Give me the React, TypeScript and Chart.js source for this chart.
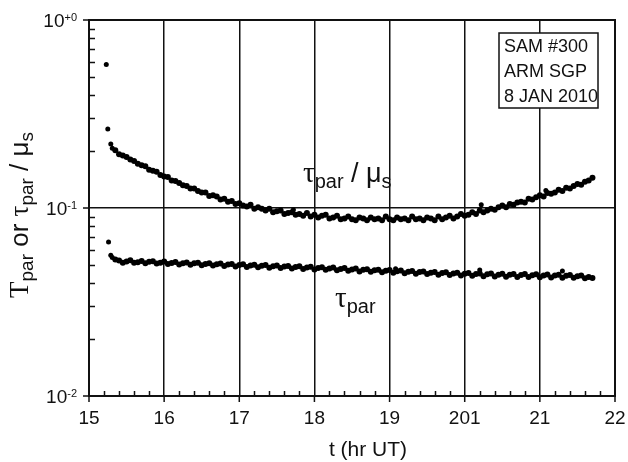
import React, { useEffect, useRef } from "react";
import { Chart, registerables } from "chart.js";
Chart.register(...registerables);

// ---- data ----
const xTicks = [15, 16, 17, 18, 19, 20, 21, 22];
const xTickLabels = ["15", "16", "17", "18", "19", "201", "21", "22"];
const yMajor = [0.01, 0.1, 1];
const yTickExp = ["-2", "-1", "+0"];
const infoLines = ["SAM #300", "ARM SGP", "8 JAN 2010"];

const times = [
  15.35, 15.4, 15.45, 15.5, 15.55, 15.6, 15.65, 15.7, 15.75, 15.8,
  15.85, 15.9, 15.95, 16.0, 16.05, 16.1, 16.15, 16.2, 16.25, 16.3,
  16.35, 16.4, 16.45, 16.5, 16.55, 16.6, 16.65, 16.7, 16.75, 16.8,
  16.85, 16.9, 16.95, 17.0, 17.05, 17.1, 17.15, 17.2, 17.25, 17.3,
  17.35, 17.4, 17.45, 17.5, 17.55, 17.6, 17.65, 17.7, 17.75, 17.8,
  17.85, 17.9, 17.95, 18.0, 18.05, 18.1, 18.15, 18.2, 18.25, 18.3,
  18.35, 18.4, 18.45, 18.5, 18.55, 18.6, 18.65, 18.7, 18.75, 18.8,
  18.85, 18.9, 18.95, 19.0, 19.05, 19.1, 19.15, 19.2, 19.25, 19.3,
  19.35, 19.4, 19.45, 19.5, 19.55, 19.6, 19.65, 19.7, 19.75, 19.8,
  19.85, 19.9, 19.95, 20.0, 20.05, 20.1, 20.15, 20.2, 20.25, 20.3,
  20.35, 20.4, 20.45, 20.5, 20.55, 20.6, 20.65, 20.7, 20.75, 20.8,
  20.85, 20.9, 20.95, 21.0, 21.05, 21.1, 21.15, 21.2, 21.25, 21.3,
  21.35, 21.4, 21.45, 21.5, 21.55, 21.6, 21.65, 21.7,
];

// tau_par / mu_s
const upper = [
  0.203, 0.193, 0.19, 0.187, 0.181, 0.178, 0.172, 0.169, 0.167, 0.16,
  0.158, 0.156, 0.15, 0.147, 0.146, 0.14, 0.139, 0.136, 0.132, 0.131,
  0.127, 0.127, 0.123, 0.121, 0.121, 0.116, 0.117, 0.115, 0.111, 0.112,
  0.108, 0.109, 0.105, 0.106, 0.103, 0.102, 0.104, 0.099, 0.101, 0.099,
  0.097, 0.099, 0.095, 0.096, 0.097, 0.093, 0.094, 0.095, 0.092, 0.093,
  0.091, 0.094, 0.09, 0.092, 0.089, 0.091, 0.092, 0.088, 0.089, 0.091,
  0.087, 0.088, 0.09, 0.087, 0.086, 0.089, 0.088, 0.086, 0.089, 0.087,
  0.088, 0.086, 0.09, 0.087, 0.086, 0.089, 0.087, 0.088, 0.086, 0.09,
  0.087, 0.088, 0.086, 0.089, 0.088, 0.086, 0.09, 0.087, 0.089, 0.091,
  0.088, 0.09, 0.093, 0.091, 0.092, 0.095, 0.093, 0.097, 0.095, 0.097,
  0.099, 0.098, 0.101, 0.103, 0.101, 0.105, 0.104, 0.107, 0.108, 0.107,
  0.112, 0.111, 0.114, 0.117, 0.115, 0.12, 0.119, 0.121, 0.125, 0.123,
  0.128, 0.127, 0.131, 0.134, 0.133, 0.138, 0.14, 0.145,
];

// tau_par
const lower = [
  0.0532, 0.0525, 0.0512, 0.052, 0.0527, 0.0511, 0.0515, 0.0523, 0.0508, 0.0517,
  0.0521, 0.0506, 0.0512, 0.0519, 0.0503, 0.051, 0.0516, 0.0501, 0.0509, 0.0513,
  0.0499, 0.0508, 0.0511, 0.0496, 0.0503, 0.0509, 0.0494, 0.0502, 0.0507, 0.0492,
  0.05, 0.0504, 0.0489, 0.0497, 0.0502, 0.0486, 0.0495, 0.0499, 0.0484, 0.0493,
  0.0497, 0.0481, 0.049, 0.0494, 0.0479, 0.0488, 0.0492, 0.0477, 0.0485, 0.049,
  0.0474, 0.0483, 0.0487, 0.0471, 0.048, 0.0484, 0.0469, 0.0477, 0.0482, 0.0466,
  0.0474, 0.0479, 0.0463, 0.0471, 0.0476, 0.046, 0.0469, 0.0473, 0.0458, 0.0466,
  0.047, 0.0455, 0.0464, 0.0468, 0.0452, 0.0461, 0.0465, 0.045, 0.0458, 0.0462,
  0.0447, 0.0456, 0.046, 0.0445, 0.0453, 0.0457, 0.0442, 0.0451, 0.0455, 0.044,
  0.0449, 0.0453, 0.0438, 0.0447, 0.0451, 0.0436, 0.0445, 0.0449, 0.0434, 0.0444,
  0.0448, 0.0432, 0.0442, 0.0447, 0.0431, 0.0441, 0.0446, 0.043, 0.044, 0.0445,
  0.0429, 0.0439, 0.0444, 0.0428, 0.0438, 0.0443, 0.0427, 0.0437, 0.0442, 0.0426,
  0.0436, 0.044, 0.0425, 0.0434, 0.0437, 0.0423, 0.043, 0.0424,
];

const upperStartT = [15.23, 15.25, 15.29, 15.31];
const upperStart = [0.58, 0.263, 0.219, 0.208];
const lowerStartT = [15.26, 15.29, 15.31];
const lowerStart = [0.066, 0.056, 0.0545];

const upperOutT = [17.72, 20.22, 21.08];
const upperOut = [0.098, 0.104, 0.124];
const lowerOutT = [19.08, 20.2, 21.3];
const lowerOut = [0.0475, 0.0468, 0.0462];

const SANS = "'Liberation Sans', Arial, sans-serif";
const SERIF = "'Liberation Serif', 'Times New Roman', serif";

type Run = { t: string; f: string; dy: number };

function runsWidth(ctx: CanvasRenderingContext2D, runs: Run[]) {
  let w = 0;
  for (const r of runs) {
    ctx.font = r.f;
    w += ctx.measureText(r.t).width;
  }
  return w;
}
function drawRuns(ctx: CanvasRenderingContext2D, runs: Run[], x: number, y: number) {
  let cx = x;
  for (const r of runs) {
    ctx.font = r.f;
    ctx.fillText(r.t, cx, y + r.dy);
    cx += ctx.measureText(r.t).width;
  }
}

const decor = {
  id: "decor",
  afterDraw(chart: any) {
    const ctx: CanvasRenderingContext2D = chart.ctx;
    const { left, right, top, bottom } = chart.chartArea;
    const xs = chart.scales.x;
    const ys = chart.scales.y;
    ctx.save();
    ctx.strokeStyle = "#111";
    ctx.fillStyle = "#111";
    // frame
    ctx.lineWidth = 2;
    ctx.strokeRect(left, top, right - left, bottom - top);
    // x minor ticks
    ctx.lineWidth = 1.5;
    ctx.beginPath();
    for (let i = 0; i < xTicks.length - 1; i++) {
      for (let k = 1; k < 5; k++) {
        const px = Math.round(xs.getPixelForValue(xTicks[i] + k * 0.2)) + 0.5;
        ctx.moveTo(px, bottom);
        ctx.lineTo(px, bottom - 5);
      }
    }
    for (const v of xTicks) {
      const px = xs.getPixelForValue(v);
      ctx.moveTo(px, bottom);
      ctx.lineTo(px, bottom + 6);
    }
    // y minor ticks
    for (let d = 0; d < yMajor.length - 1; d++) {
      for (let m = 2; m < 10; m++) {
        const py = Math.round(ys.getPixelForValue(yMajor[d] * m)) + 0.5;
        ctx.moveTo(left, py);
        ctx.lineTo(left + 6, py);
      }
    }
    for (const v of yMajor) {
      const py = ys.getPixelForValue(v);
      ctx.moveTo(left - 6, py);
      ctx.lineTo(left, py);
    }
    ctx.stroke();

    // x tick labels
    ctx.textAlign = "center";
    ctx.textBaseline = "alphabetic";
    ctx.font = `19px ${SANS}`;
    xTicks.forEach((v, i) => {
      ctx.fillText(xTickLabels[i], xs.getPixelForValue(v), bottom + 28);
    });
    // y tick labels
    ctx.textAlign = "left";
    yMajor.forEach((v, i) => {
      const py = ys.getPixelForValue(v);
      ctx.font = `11px ${SANS}`;
      const sw = ctx.measureText(yTickExp[i]).width;
      ctx.font = `19px ${SANS}`;
      const bw = ctx.measureText("10").width;
      const xr = left - 12;
      ctx.fillText("10", xr - sw - bw, py + 7);
      ctx.font = `11px ${SANS}`;
      ctx.fillText(yTickExp[i], xr - sw, py + 1);
    });
    // x title
    ctx.textAlign = "left";
    ctx.font = `21px ${SANS}`;
    const xt = "t (hr UT)";
    const xtw = ctx.measureText(xt).width;
    ctx.fillText(xt, 368 - xtw / 2, 456);

    // y title (rotated)
    const yRuns: Run[] = [
      { t: "\u03A4", f: `27px ${SERIF}`, dy: 0 },
      { t: "par", f: `19px ${SANS}`, dy: 5 },
      { t: " or ", f: `26px ${SANS}`, dy: 0 },
      { t: "\u03C4", f: `27px ${SERIF}`, dy: 0 },
      { t: "par", f: `19px ${SANS}`, dy: 5 },
      { t: " / ", f: `26px ${SANS}`, dy: 0 },
      { t: "\u03BC", f: `26px ${SANS}`, dy: 0 },
      { t: "s", f: `19px ${SANS}`, dy: 5 },
    ];
    ctx.save();
    ctx.translate(28, 215);
    ctx.rotate(-Math.PI / 2);
    const yw = runsWidth(ctx, yRuns);
    drawRuns(ctx, yRuns, -yw / 2, 0);
    ctx.restore();

    // series labels
    const upRuns: Run[] = [
      { t: "\u03C4", f: `29px ${SERIF}`, dy: 0 },
      { t: "par", f: `20px ${SANS}`, dy: 6 },
      { t: " / ", f: `27px ${SANS}`, dy: 0 },
      { t: "\u03BC", f: `27px ${SANS}`, dy: 0 },
      { t: "s", f: `20px ${SANS}`, dy: 6 },
    ];
    drawRuns(ctx, upRuns, 303, 182);
    const loRuns: Run[] = [
      { t: "\u03C4", f: `29px ${SERIF}`, dy: 0 },
      { t: "par", f: `20px ${SANS}`, dy: 6 },
    ];
    drawRuns(ctx, loRuns, 335, 307);

    // info box
    ctx.fillStyle = "#fff";
    ctx.fillRect(499, 33, 99, 75);
    ctx.lineWidth = 1.5;
    ctx.strokeRect(499, 33, 99, 75);
    ctx.fillStyle = "#111";
    ctx.font = `18px ${SANS}`;
    infoLines.forEach((s, i) => ctx.fillText(s, 504, 52 + i * 25));
    ctx.restore();
  },
};

export default function App() {
  const ref = useRef<HTMLCanvasElement | null>(null);
  useEffect(() => {
    if (!ref.current) return;
    const mk = (tt: number[], vv: number[]) => tt.map((t, i) => ({ x: t, y: vv[i] }));
    const dot = { backgroundColor: "#000", borderWidth: 0 };
    const chart = new Chart(ref.current, {
      type: "scatter",
      data: {
        datasets: [
          { data: mk(upperStartT, upperStart), ...dot, pointRadius: 2.5 },
          { data: mk(times, upper), ...dot, pointRadius: 3 },
          { data: mk(upperOutT, upperOut), ...dot, pointRadius: 2.5 },
          { data: mk(lowerStartT, lowerStart), ...dot, pointRadius: 2.5 },
          { data: mk(times, lower), ...dot, pointRadius: 3 },
          { data: mk(lowerOutT, lowerOut), ...dot, pointRadius: 2.5 },
        ],
      },
      options: {
        animation: false,
        responsive: false,
        devicePixelRatio: 1,
        events: [],
        layout: { padding: { left: 89, right: 13, top: 20, bottom: 66 } },
        plugins: { legend: { display: false }, tooltip: { enabled: false } },
        scales: {
          x: {
            type: "linear",
            min: 15,
            max: 22,
            afterBuildTicks: (s: any) => {
              s.ticks = xTicks.map((v) => ({ value: v }));
            },
            afterFit: (s: any) => {
              s.height = 0;
            },
            ticks: { display: false },
            grid: { color: "#111", lineWidth: 1.5, drawTicks: false },
            border: { display: false },
          },
          y: {
            type: "logarithmic",
            min: 0.01,
            max: 1,
            afterBuildTicks: (s: any) => {
              s.ticks = yMajor.map((v) => ({ value: v }));
            },
            afterFit: (s: any) => {
              s.width = 0;
            },
            ticks: { display: false },
            grid: { color: "#111", lineWidth: 1.5, drawTicks: false },
            border: { display: false },
          },
        },
      } as any,
      plugins: [decor],
    });
    return () => chart.destroy();
  }, []);
  return (
    <div style={{ position: "fixed", left: 0, top: 0, width: 628, height: 462, background: "#fff" }}>
      <canvas ref={ref} width={628} height={462} style={{ display: "block" }} />
    </div>
  );
}
